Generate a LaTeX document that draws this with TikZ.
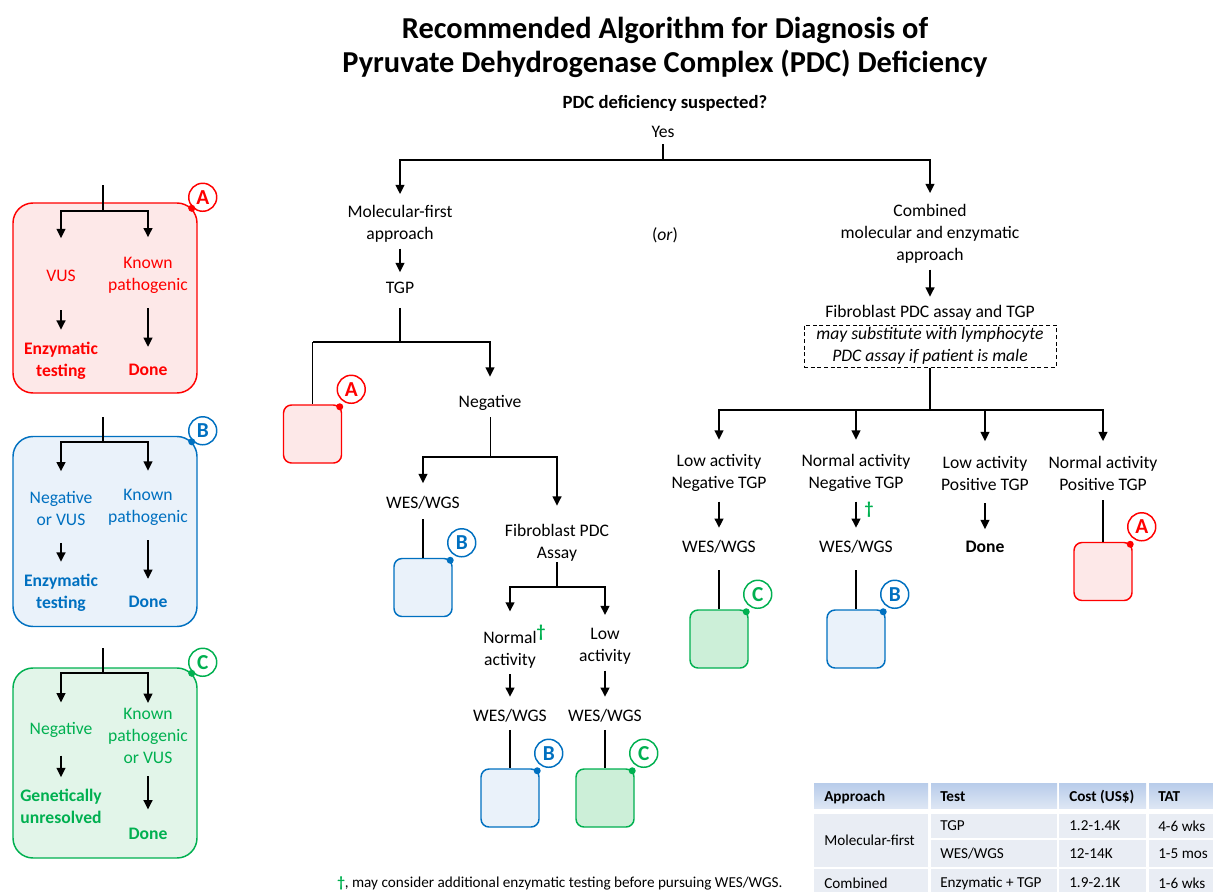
\documentclass[tikz,border=0pt]{standalone}
\usepackage{fontspec}
\setmainfont{Carlito}
\usepackage{xcolor}
\usepackage{tikz}
\usetikzlibrary{arrows.meta, positioning, calc}
\definecolor{pdcred}{RGB}{255,0,0}
\definecolor{pdcblue}{RGB}{0,112,192}
\definecolor{pdcgreen}{RGB}{0,176,80}
\definecolor{redfill}{RGB}{253,232,232}
\definecolor{bluefill}{RGB}{234,242,250}
\definecolor{greenfill}{RGB}{226,245,233}
\definecolor{greenbox}{RGB}{204,239,216}
\definecolor{tabhead}{RGB}{184,204,234}
\definecolor{tabheadlt}{RGB}{221,230,244}
\definecolor{tabbody}{RGB}{233,237,244}
\newcommand{\pdcfont}{\fontsize{13.2}{16.5}\selectfont}
\newcommand{\pdctitlefont}{\fontsize{22.8}{25.5}\selectfont\bfseries}
\newcommand{\pdcqfont}{\fontsize{14}{16}\selectfont\bfseries}
\newcommand{\pdcbadgefont}{\fontsize{16}{16}\selectfont\bfseries}
\newcommand{\pdctabfont}{\fontsize{11.4}{13}\selectfont}
\newcommand{\pdcdag}{\textcolor{pdcgreen}{\textbf{†}}}

\begin{document}
\begin{tikzpicture}[
    x=0.75pt, y=-0.75pt,
    txt/.style={inner sep=0pt, outer sep=0pt, align=center, font=\pdcfont},
    outc/.style={txt, font=\pdcfont\bfseries},
    ln/.style={line width=1.5pt},
    thinln/.style={line width=0.75pt},
    arr/.style={ln, -{Triangle[length=7pt, width=6.5pt]}},
    panel/.style={draw=#1, line width=1.1pt, rounded corners=15pt,
                  minimum width=138pt, minimum height=142.5pt},
    minibox/.style={draw=#1, line width=1.1pt, rounded corners=6pt, minimum size=43.5pt},
    badge/.style={circle, draw=#1, text=#1, fill=white, line width=1.1pt,
                  minimum size=21pt, inner sep=0pt, font=\pdcbadgefont},
    tab/.style={inner sep=0pt, anchor=west, font=\pdctabfont},
]
    \useasboundingbox (0,0) rectangle (1213,892);

    % title and question
    \node[inner sep=0pt, align=center, font=\pdctitlefont] (title) at (665,47)
        {Recommended Algorithm for Diagnosis of\\Pyruvate Dehydrogenase Complex (PDC) Deficiency};
    \node[inner sep=0pt, font=\pdcqfont] (pdcq) at (665,103) {PDC deficiency suspected?};
    \node[txt] (yes) at (663,132) {Yes};
    \coordinate (j0) at (663,160);
    \node[txt] (mol)  at (400,224) {Molecular-first\\approach};
    \node[txt] (orr)  at (665,235) {(\textit{or})};
    \node[txt] (comb) at (930,234) {Combined\\molecular and enzymatic\\approach};
    \draw[ln, shorten <=5pt] (yes) -- (j0);
    \draw[arr, shorten >=8.5pt] (j0) -| (mol);
    \draw[arr, shorten >=8.5pt] (j0) -| (comb);

    % legend panels
    \node[panel=pdcred, fill=redfill]     (pA) at (105,298) {};
    \node[panel=pdcblue, fill=bluefill]   (pB) at (105,531.5) {};
    \node[panel=pdcgreen, fill=greenfill] (pC) at (105,763) {};

    \coordinate (tA) at (103,185);
    \coordinate (jA) at (103,211);
    \node[txt, text=pdcred]  (vusA)  at (61,276)    {VUS};
    \node[txt, text=pdcred]  (kpA)   at (148,275.5) {Known\\pathogenic};
    \node[outc, text=pdcred] (enzA)  at (61,360.5)  {Enzymatic\\testing};
    \node[outc, text=pdcred] (doneA) at (148,370)   {Done};
    \draw[ln] (tA) -- (jA);
    \draw[arr, shorten >=24pt] (jA) -| (vusA);
    \draw[arr, shorten >=15pt] (jA) -| (kpA);
    \draw[arr, shorten <=21.5pt, shorten >=9pt] (vusA) -- (enzA);
    \draw[arr, shorten <=11pt, shorten >=13pt] (kpA) -- (doneA);

    \coordinate (tB) at (103,417);
    \coordinate (jB) at (103,442);
    \node[txt, text=pdcblue]  (negB)  at (61,508.5)  {Negative\\or VUS};
    \node[txt, text=pdcblue]  (kpB)   at (148,507.5) {Known\\pathogenic};
    \node[outc, text=pdcblue] (enzB)  at (61,592.5)  {Enzymatic\\testing};
    \node[outc, text=pdcblue] (doneB) at (148,602)   {Done};
    \draw[ln] (tB) -- (jB);
    \draw[arr, shorten >=15pt] (jB) -| (negB);
    \draw[arr, shorten >=14pt] (jB) -| (kpB);
    \draw[arr, shorten <=13pt, shorten >=9pt] (negB) -- (enzB);
    \draw[arr, shorten <=11pt, shorten >=13pt] (kpB) -- (doneB);

    \coordinate (tC) at (103,648);
    \coordinate (jC) at (103,673);
    \node[txt, text=pdcgreen]  (negC)  at (61,730)   {Negative};
    \node[txt, text=pdcgreen]  (kpC)   at (148,736)  {Known\\pathogenic\\or VUS};
    \node[outc, text=pdcgreen] (genC)  at (61,806.5) {Genetically\\unresolved};
    \node[outc, text=pdcgreen] (doneC) at (148,834)  {Done};
    \draw[ln] (tC) -- (jC);
    \draw[arr, shorten >=15pt] (jC) -| (negC);
    \draw[arr, shorten >=4pt] (jC) -| (kpC);
    \draw[arr, shorten <=13.5pt, shorten >=9pt] (negC) -- (genC);
    \draw[arr, shorten <=9.5pt, shorten >=14pt] (kpC) -- (doneC);

    \node[badge=pdcred]   (bA) at ($(pA.north east)+(5,-5)$) {A};
    \node[badge=pdcblue]  (bB) at ($(pB.north east)+(5,-5)$) {B};
    \node[badge=pdcgreen] (bC) at ($(pC.north east)+(5,-5)$) {C};
    \fill[pdcred]   ($(pA.north east)+(-6,6)$) circle (3.5);
    \fill[pdcblue]  ($(pB.north east)+(-6,6)$) circle (3.5);
    \fill[pdcgreen] ($(pC.north east)+(-6,6)$) circle (3.5);

    % molecular-first branch
    \node[txt] (tgp) at (400,288) {TGP};
    \draw[arr, shorten <=4.5pt, shorten >=7.5pt] (mol) -- (tgp);
    \coordinate (j1) at (400,342);
    \draw[ln, shorten <=10.5pt] (tgp) -- (j1);
    \node[minibox=pdcred, fill=redfill] (sA1) at (312.5,434) {};
    \draw[ln] (j1) -- (j1 -| sA1);
    \draw[thinln] (j1 -| sA1) -- (sA1);
    \node[txt] (neg) at (490,403) {Negative};
    \draw[arr, shorten >=14pt] (j1) -| (neg);

    \coordinate (j2) at (490,457);
    \draw[thinln, shorten <=5pt] (neg) -- (j2);
    \node[txt] (wes1) at (423,503) {WES/WGS};
    \node[txt] (fibA) at (557,543) {Fibroblast PDC\\Assay};
    \draw[arr, shorten >=10pt] (j2) -| (wes1);
    \draw[arr, shorten >=14pt] (j2) -| (fibA);
    \node[minibox=pdcblue, fill=bluefill] (sB1) at (423,587.5) {};
    \draw[ln, shorten <=7.5pt] (wes1) -- (sB1);

    \coordinate (j3) at (557,587);
    \draw[ln, shorten <=0.5pt] (fibA) -- (j3);
    \node[txt] (normact) at (510,646.5) {Normal\rlap{\raisebox{0.7ex}{\pdcdag}}\\activity};
    \node[txt] (lowact)  at (605,646.5) {Low\\activity};
    \draw[arr, shorten >=10pt] (j3) -| (normact);
    \draw[arr, shorten >=10pt] (j3) -| (lowact);
    \node[txt] (wes2) at (510,716) {WES/WGS};
    \node[txt] (wes3) at (605,716) {WES/WGS};
    \draw[arr, shorten <=4.5pt, shorten >=9.5pt] (normact) -- (wes2);
    \draw[arr, shorten <=4.5pt, shorten >=9.5pt] (lowact) -- (wes3);
    \node[minibox=pdcblue, fill=bluefill]   (sB2) at (510,798) {};
    \node[minibox=pdcgreen, fill=greenbox]  (sC1) at (605,798) {};
    \draw[ln, shorten <=5.5pt] (wes2) -- (sB2);
    \draw[ln, shorten <=5.5pt] (wes3) -- (sC1);

    % combined branch
    \node[txt] (fib) at (930,313) {Fibroblast PDC assay and TGP};
    \draw[arr, shorten <=4.5pt, shorten >=6.5pt] (comb) -- (fib);
    \node[draw, dash pattern=on 3pt off 2pt, line width=0.75pt, inner sep=0pt,
          align=center, font=\pdcfont\itshape, minimum width=189pt, minimum height=31.5pt]
        (sub) at (930,346) {may substitute with lymphocyte\\PDC assay if patient is male};
    \coordinate (j4) at (930,410);
    \draw[ln] (sub) -- (j4);
    \node[txt] (r1) at (719,473)  {Low activity\\Negative TGP};
    \node[txt] (r2) at (856,473)  {Normal activity\\Negative TGP};
    \node[txt] (r3) at (985,473)  {Low activity\\Positive TGP};
    \node[txt] (r4) at (1103,473) {Normal activity\\Positive TGP};
    \draw[arr, shorten >=11pt] (j4) -| (r1);
    \draw[arr, shorten >=11pt] (j4) -| (r2);
    \draw[arr, shorten >=11pt] (j4) -| (r3);
    \draw[arr, shorten >=11pt] (j4) -| (r4);
    \node[txt]  (wes4)  at (719,547) {WES/WGS};
    \node[txt]  (wes5)  at (856,547) {WES/WGS};
    \node[outc] (done1) at (985,547) {Done};
    \draw[arr, shorten <=7.5pt, shorten >=9.5pt] (r1) -- (wes4);
    \draw[arr, shorten <=7.5pt, shorten >=9.5pt] (r2) -- (wes5);
    \draw[arr, shorten <=10pt, shorten >=9pt] (r3) -- (done1);
    \node[txt, font=\pdcfont\bfseries, text=pdcgreen] (dag2) at (869,510) {†};
    \node[minibox=pdcgreen, fill=greenbox] (sC2) at (719,639) {};
    \node[minibox=pdcblue, fill=bluefill]  (sB3) at (856,639) {};
    \node[minibox=pdcred, fill=redfill]    (sA2) at (1103,571.5) {};
    \draw[ln, shorten <=12.5pt] (wes4) -- (sC2);
    \draw[ln, shorten <=12.5pt] (wes5) -- (sB3);
    \draw[ln, shorten <=7.5pt] (r4) -- (sA2);

    % badges on the small boxes
    \node[badge=pdcred]   (bA1) at ($(sA1.north east)+(9,-15)$) {A};
    \node[badge=pdcblue]  (bB1) at ($(sB1.north east)+(9,-15)$) {B};
    \node[badge=pdcblue]  (bB2) at ($(sB2.north east)+(9,-15)$) {B};
    \node[badge=pdcgreen] (bC1) at ($(sC1.north east)+(9,-15)$) {C};
    \node[badge=pdcgreen] (bC2) at ($(sC2.north east)+(9,-15)$) {C};
    \node[badge=pdcblue]  (bB3) at ($(sB3.north east)+(9,-15)$) {B};
    \node[badge=pdcred]   (bA2) at ($(sA2.north east)+(9,-15)$) {A};
    \fill[pdcred]   ($(sA1.north east)+(-2.5,2.5)$) circle (3.5);
    \fill[pdcblue]  ($(sB1.north east)+(-2.5,2.5)$) circle (3.5);
    \fill[pdcblue]  ($(sB2.north east)+(-2.5,2.5)$) circle (3.5);
    \fill[pdcgreen] ($(sC1.north east)+(-2.5,2.5)$) circle (3.5);
    \fill[pdcgreen] ($(sC2.north east)+(-2.5,2.5)$) circle (3.5);
    \fill[pdcblue]  ($(sB3.north east)+(-2.5,2.5)$) circle (3.5);
    \fill[pdcred]   ($(sA2.north east)+(-2.5,2.5)$) circle (3.5);

    % cost table
    \shade[top color=tabhead, bottom color=tabheadlt] (814,783) rectangle (928,808);
    \shade[top color=tabhead, bottom color=tabheadlt] (931,783) rectangle (1057,808);
    \shade[top color=tabhead, bottom color=tabheadlt] (1059,783) rectangle (1146,808);
    \shade[top color=tabhead, bottom color=tabheadlt] (1149,783) rectangle (1213,808);
    \fill[tabbody] (814,814) rectangle (928,867);
    \fill[tabbody] (931,814) rectangle (1057,838);
    \fill[tabbody] (1059,814) rectangle (1146,838);
    \fill[tabbody] (1149,814) rectangle (1213,838);
    \fill[tabbody] (931,840) rectangle (1057,867);
    \fill[tabbody] (1059,840) rectangle (1146,867);
    \fill[tabbody] (1149,840) rectangle (1213,867);
    \fill[tabbody] (814,869) rectangle (928,892);
    \fill[tabbody] (931,869) rectangle (1057,892);
    \fill[tabbody] (1059,869) rectangle (1146,892);
    \fill[tabbody] (1149,869) rectangle (1213,892);

    \node[tab, font=\pdctabfont\bfseries] (hApp)  at (824,797)  {Approach};
    \node[tab, font=\pdctabfont\bfseries] (hTest) at (940,797)  {Test};
    \node[tab, font=\pdctabfont\bfseries] (hCost) at (1069,797) {Cost (US\$)};
    \node[tab, font=\pdctabfont\bfseries] (hTat)  at (1158,797) {TAT};
    \node[tab] (cMol)  at (824,840)  {Molecular-first};
    \node[tab] (cTgp)  at (940,826)  {TGP};
    \node[tab] (cC1)   at (1069,826) {1.2-1.4K};
    \node[tab] (cT1)   at (1158,826) {4-6 wks};
    \node[tab] (cWes)  at (940,854)  {WES/WGS};
    \node[tab] (cC2)   at (1069,854) {12-14K};
    \node[tab] (cT2)   at (1158,854) {1-5 mos};
    \node[tab] (cComb) at (824,883)  {Combined};
    \node[tab] (cEnz)  at (940,883)  {Enzymatic + TGP};
    \node[tab] (cC3)   at (1069,883) {1.9-2.1K};
    \node[tab] (cT3)   at (1158,883) {1-6 wks};

    % footnote
    \node[inner sep=0pt, anchor=west, font=\fontsize{11.4}{13}\selectfont] (foot) at (337,883)
        {\pdcdag, may consider additional enzymatic testing before pursuing WES/WGS.};
\end{tikzpicture}
\end{document}
